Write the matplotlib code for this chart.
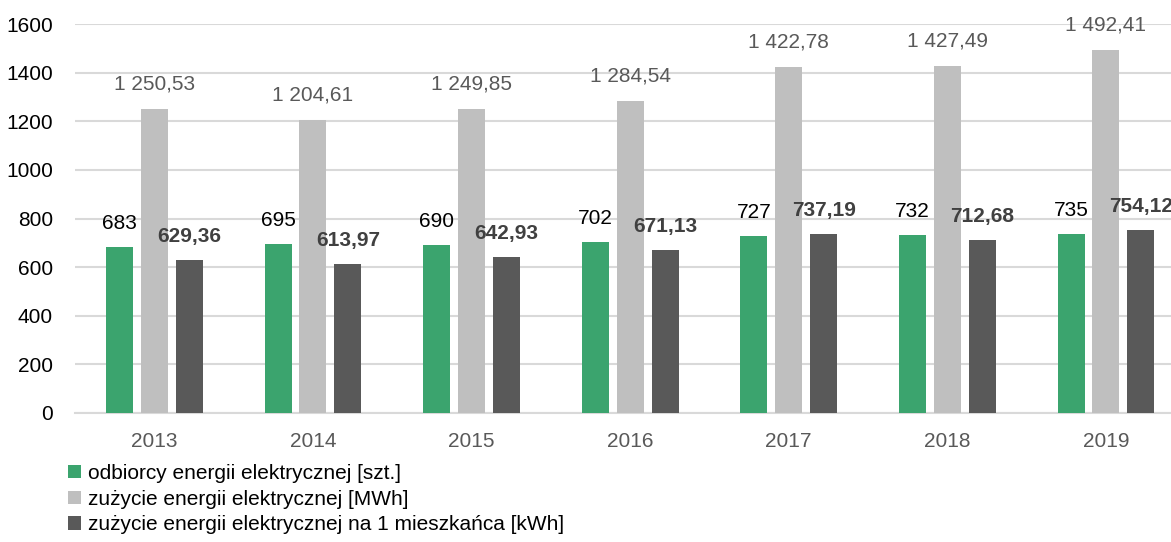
import matplotlib
matplotlib.use("Agg")
import matplotlib.pyplot as plt
import numpy as np

plt.rcParams['font.family'] = ['Liberation Sans', 'DejaVu Sans']

# dane
lata = ["2013", "2014", "2015", "2016", "2017", "2018", "2019"]
odbiorcy = [683, 695, 690, 702, 727, 732, 735]
zuzycie = [1250.53, 1204.61, 1249.85, 1284.54, 1422.78, 1427.49, 1492.41]
na_mieszkanca = [629.36, 613.97, 642.93, 671.13, 737.19, 712.68, 754.12]

etykiety = ["odbiorcy energii elektrycznej [szt.]",
            "zużycie energii elektrycznej [MWh]",
            "zużycie energii elektrycznej na 1 mieszkańca [kWh]"]
kolory = ["#3BA46E", "#BFBFBF", "#595959"]


def fmt(v, dec):
    s = f"{v:,.{dec}f}".replace(",", " ").replace(".", ",")
    return s


fig = plt.figure(figsize=(11.71, 5.42), dpi=100)
ax = fig.add_axes([75 / 1171, 1 - 413 / 542, 1 - 75 / 1171, (413 - 24) / 542])

x = np.arange(len(lata))
w = 0.17
off = 0.22

ax.bar(x - off, odbiorcy, w, color=kolory[0], label=etykiety[0], zorder=3)
ax.bar(x, zuzycie, w, color=kolory[1], label=etykiety[1], zorder=3)
ax.bar(x + off, na_mieszkanca, w, color=kolory[2], label=etykiety[2], zorder=3)

fs = 15
for xi, v in zip(x - off, odbiorcy):
    ax.annotate(fmt(v, 0), (xi, v), xytext=(0, 17), textcoords="offset points",
                ha="center", va="center", fontsize=fs, color="black")
for xi, v in zip(x, zuzycie):
    ax.annotate(fmt(v, 2), (xi, v), xytext=(0, 18), textcoords="offset points",
                ha="center", va="center", fontsize=fs, color="#595959")
for xi, v in zip(x + off, na_mieszkanca):
    ax.annotate(fmt(v, 2), (xi, v), xytext=(0, 17), textcoords="offset points",
                ha="center", va="center", fontsize=fs, color="#404040", fontweight="bold")

ax.set_ylim(0, 1600)
ax.set_yticks(range(0, 1601, 200))
ax.set_xlim(-0.5, 6.41)
ax.set_xticks(x)
ax.set_xticklabels(lata, color="#595959")
ax.tick_params(axis="both", length=0, labelsize=fs)
ax.tick_params(axis="x", pad=14)
ax.tick_params(axis="y", pad=16)
ax.grid(axis="y", color="#D9D9D9", linewidth=1.5, zorder=0)
for s in ["left", "right", "top"]:
    ax.spines[s].set_visible(False)
ax.spines["bottom"].set_color("#D9D9D9")
ax.spines["bottom"].set_linewidth(1.5)

fig.legend(loc="upper left", bbox_to_anchor=(68 / 1171, 1 - 464 / 542), frameon=False,
           fontsize=fs, handlelength=0.6, handleheight=0.6, handletextpad=0.35,
           labelspacing=0.32, borderpad=0, borderaxespad=0)

fig.savefig("out.png", dpi=100)
